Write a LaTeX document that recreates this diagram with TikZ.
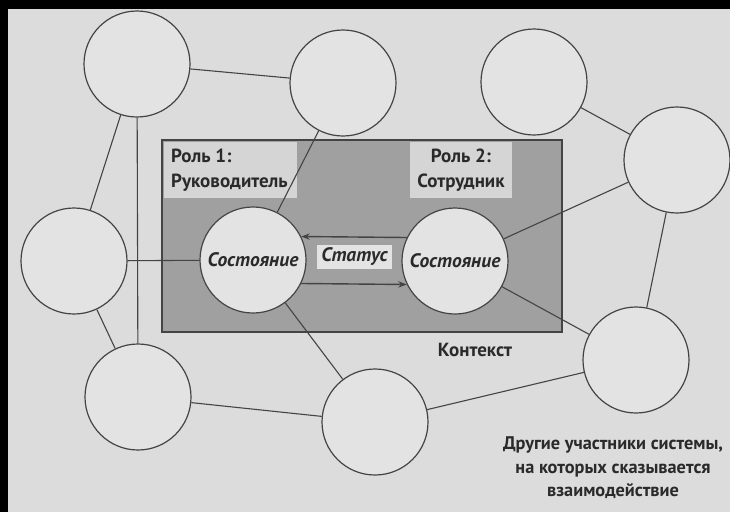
\documentclass[tikz,border=0pt]{standalone}
\usepackage{fontspec}
\setmainfont{PT Sans}
\usepackage{xcolor}
\usepackage{tikz}
\usetikzlibrary{arrows.meta,positioning}
\definecolor{paper}{HTML}{DCDCDC}
\definecolor{bubble}{HTML}{E3E3E3}
\definecolor{ctxgray}{HTML}{A0A0A0}
\definecolor{tagfill}{HTML}{D5D5D5}
\definecolor{ink}{HTML}{444444}
\definecolor{txt}{HTML}{2A2A2A}
\tikzset{
  member/.style={circle,draw=ink,line width=1.2pt,fill=bubble,
                 minimum size=106pt,inner sep=0pt},
  state/.style={member,font=\fontsize{19.5}{22}\selectfont\bfseries\itshape,text=txt},
  link/.style={draw=ink,line width=1.1pt},
  msg/.style={-{Stealth[length=3mm,width=2.2mm]},draw=ink,line width=1.4pt},
  roletag/.style={inner sep=0pt,align=left,
                  font=\fontsize{19}{25}\selectfont\bfseries,text=txt},
  caption/.style={align=center,font=\fontsize{18.3}{23.5}\selectfont\bfseries,text=txt},
}

\begin{document}
\begin{tikzpicture}[x=1pt,y=-1pt]
\useasboundingbox (0,0) rectangle (730,512);
\fill[paper] (0,0) rectangle (730,512);
\fill[black] (0,0) rectangle (8,512);
\fill[black] (0,0) rectangle (730,9);

% context box with the two roles
\filldraw[fill=ctxgray,draw=ink,line width=1.2pt] (162,140) rectangle (562,332);
\fill[tagfill] (164,142) rectangle (297,198);
\fill[tagfill] (410,142) rectangle (512,198);
\node[roletag,anchor=west] (roleA) at (171,170) {Роль 1:\\Руководитель};
\node[roletag,align=center] (roleB) at (461,170) {Роль 2:\\Сотрудник};
\node[caption,font=\fontsize{19}{22}\selectfont\bfseries] (ctx) at (475,350) {Контекст};

% other participants
\node[member] (pA) at (137,64) {};
\node[member] (pB) at (343,83) {};
\node[member] (pC) at (534,82) {};
\node[member] (pD) at (677,160) {};
\node[member] (pE) at (74,261) {};
\node[member] (pH) at (138,397) {};
\node[member] (pI) at (375,422) {};
\node[member] (pJ) at (636,360) {};

% states of the two roles
\node[state] (stA) at (253,260) {Состояние};
\node[state] (stB) at (455,261) {Состояние};

\foreach \u/\v in {pA/pB,pA/pE,pA/pH,pC/pD,pD/pJ,pE/pH,pH/pI,pI/pJ,
                   pB/stA,pE/stA,pI/stA,pD/stB,pJ/stB}
  \draw[link] (\u) -- (\v);

% exchange of status
\draw[msg] (stB.154) -- (stA.26);
\draw[msg] (stA.-26) -- (stB.-154);
\node[fill=bubble,minimum width=75pt,minimum height=24pt,inner sep=0pt,
      font=\fontsize{19.5}{22}\selectfont\bfseries\itshape,text=txt] (status) at (354.5,257) {Статус};

\node[caption] (others) at (613,468) {Другие участники системы,\\на которых сказывается\\взаимодействие};
\end{tikzpicture}
\end{document}
